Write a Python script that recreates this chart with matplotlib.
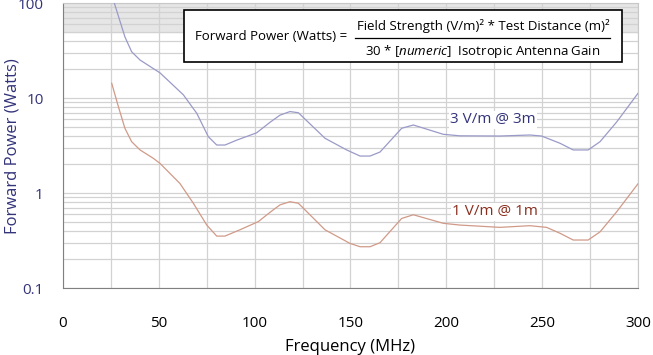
import matplotlib.pyplot as plt
from matplotlib.ticker import LogLocator, FixedLocator, NullFormatter

plt.rcParams["font.family"] = ["Open Sans", "DejaVu Sans"]
plt.rcParams["mathtext.fontset"] = "custom"
plt.rcParams["mathtext.it"] = "Open Sans:italic"
plt.rcParams["mathtext.rm"] = "Open Sans"

# 3 V/m @ 3m curve
freq_3v = [25, 27.1, 32.3, 35.8, 40.2, 50.6, 62.8, 69.8, 75.8, 80.2, 84.5, 90.6, 101,
           108, 113.2, 118.4, 122.8, 136.7, 148, 155, 160.2, 165.4, 176.7, 182.8, 198.4,
           207, 228, 243.6, 249.7, 259.3, 266.2, 274, 280.2, 288.9, 300]
power_3v = [130, 95, 44, 30.7, 25.1, 18.4, 10.8, 6.9, 3.92, 3.2, 3.2, 3.6, 4.3,
            5.55, 6.6, 7.2, 7.0, 3.77, 2.84, 2.45, 2.45, 2.7, 4.8, 5.2, 4.15,
            4.0, 3.98, 4.08, 3.98, 3.34, 2.84, 2.84, 3.47, 5.6, 11.2]

# 1 V/m @ 1m curve
freq_1v = [25.4, 28.9, 32.3, 35.8, 40.2, 47.1, 50.6, 61, 68, 75, 80.2, 84.5, 92.3,
           101.9, 108, 113.2, 118.4, 122.8, 136.7, 149.7, 155, 160.2, 165.4, 176.7,
           182.8, 198.4, 207, 228, 243.6, 252.3, 259.3, 266.2, 274, 280.2, 288.9, 300]
power_1v = [14.3, 8.1, 4.8, 3.47, 2.84, 2.32, 2.05, 1.26, 0.78, 0.46, 0.352, 0.352, 0.41,
            0.5, 0.626, 0.75, 0.81, 0.78, 0.41, 0.295, 0.272, 0.272, 0.3, 0.54,
            0.59, 0.48, 0.46, 0.435, 0.453, 0.435, 0.377, 0.32, 0.32, 0.39, 0.635, 1.25]

x_ticks = [0, 50, 100, 150, 200, 250, 300]
y_ticks = [0.1, 1, 10, 100]
y_tick_labels = ["0.1", "1", "10", "100"]

navy = "#33337a"

fig = plt.figure(figsize=(6.53, 3.55), dpi=100)
ax = fig.add_axes([0.0965, 0.1887, 0.8805, 0.8028])

ax.set_yscale("log")
ax.set_xlim(0, 300)
ax.set_ylim(0.1, 100)

# shaded band above 50 W
ax.axhspan(50, 100, color="#e6e6e6", zorder=0)

ax.xaxis.set_major_locator(FixedLocator(x_ticks))
ax.xaxis.set_minor_locator(FixedLocator(range(25, 300, 50)))
ax.yaxis.set_major_locator(FixedLocator(y_ticks))
ax.yaxis.set_minor_locator(LogLocator(base=10, subs=range(2, 10)))
ax.yaxis.set_minor_formatter(NullFormatter())
ax.set_yticklabels(y_tick_labels)
ax.grid(True, which="both", color="#d2d2d2", linewidth=0.9, zorder=1)
ax.set_axisbelow(True)

ax.tick_params(axis="both", which="both", length=0)
ax.tick_params(axis="x", pad=20, labelsize=11, colors="black")
ax.tick_params(axis="y", pad=14, labelsize=11, labelcolor=navy)

for side in ["top", "right"]:
    ax.spines[side].set_color("#c8c8c8")
for side in ["left", "bottom"]:
    ax.spines[side].set_color("#808080")

ax.plot(freq_3v, power_3v, color="#9a9ac8", linewidth=0.9, zorder=3)
ax.plot(freq_1v, power_1v, color="#d09a88", linewidth=0.9, zorder=3)

ax.text(224.5, 5.9, "3 V/m @ 3m", color=navy, fontsize=11, ha="center", va="center",
        bbox=dict(facecolor="white", edgecolor="none", pad=1), zorder=4)
ax.text(225.5, 0.635, "1 V/m @ 1m", color="#8a2e1e", fontsize=11, ha="center", va="center",
        bbox=dict(facecolor="white", edgecolor="none", pad=1), zorder=4)

ax.set_xlabel("Frequency (MHz)", fontsize=12, labelpad=6)
fig.text(13 / 653, 1 - 146 / 355, "Forward Power (Watts)", fontsize=12, color=navy,
         rotation=90, ha="center", va="center")

# formula box
box = plt.Rectangle((184 / 653, 1 - 62 / 355), 438 / 653, 52 / 355, transform=fig.transFigure,
                    facecolor="white", edgecolor="black", linewidth=1.2, zorder=4)
fig.add_artist(box)
fig.text(195 / 653, 1 - 37 / 355, "Forward Power (Watts) =", fontsize=9.5, ha="left",
         va="center", zorder=6)
fig.text(483 / 653, 1 - 26 / 355, "Field Strength (V/m)² * Test Distance (m)²", fontsize=9.5,
         ha="center", va="center", zorder=6)
fig.add_artist(plt.Line2D([355 / 653, 610 / 653], [1 - 38 / 355, 1 - 38 / 355],
                          transform=fig.transFigure, color="black", linewidth=0.9, zorder=6))
fig.text(483 / 653, 1 - 51 / 355, r"30 * [$\mathit{numeric}$]  Isotropic Antenna Gain",
         fontsize=9.5, ha="center", va="center", zorder=6)

fig.savefig("out.png", dpi=100)
